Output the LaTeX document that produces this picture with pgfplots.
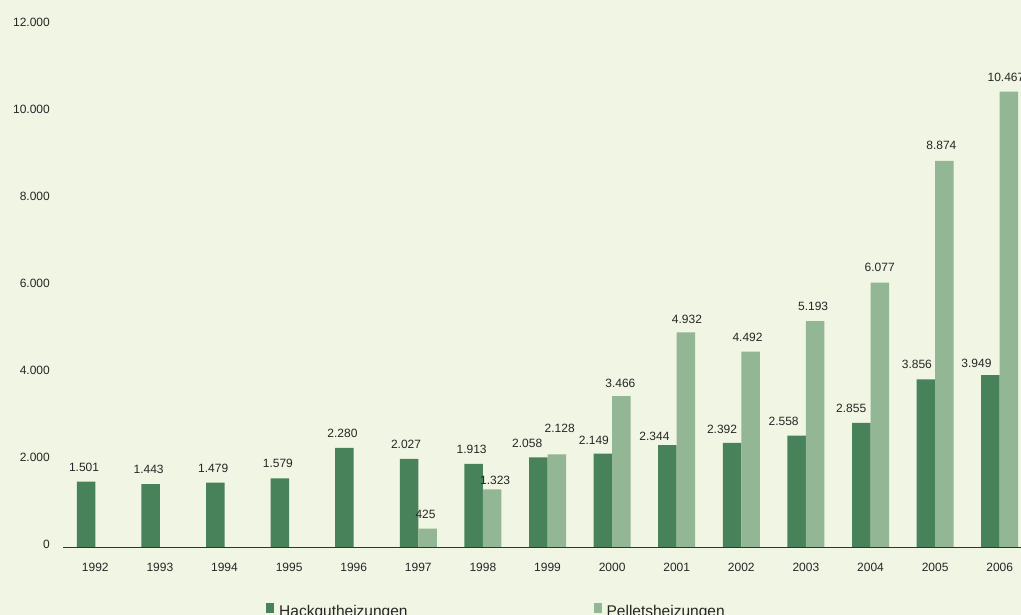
\documentclass[border=0pt]{standalone}
\usepackage{pgfplots}
\usepackage{pgfplotstable}
\pgfplotsset{compat=1.18}
\usepackage{fontspec}
\setmainfont{Liberation Sans}
\definecolor{bgc}{RGB}{241,245,227}
\definecolor{darkg}{RGB}{72,130,90}
\definecolor{lightg}{RGB}{147,182,148}
\pgfplotstableread{
x y dx dy
0 1501 -2 16
1 1443 -2 16
2 1479 -2 16
3 1579 -2 16
4 2280 -2 16
5 2027 -3 16
6 1913 -2 16
7 2058 -11 16
8 2149 -9 15
9 2344 -13 10
10 2392 -10 15
11 2558 -13 16
12 2855 -10 16
13 3856 -9 16
14 3949 -14 13
}\hack
\pgfplotstableread{
x y dx dy
5 425 -2 16
6 1323 3 11
7 2128 3 28
8 3466 -1 14
9 4932 1 15
10 4492 -3 16
11 5193 -2 16
12 6077 0 17
13 8874 -3 17
14 10467 -3 16
}\pellet
\begin{document}
\begin{tikzpicture}[x=1pt,y=1pt]
\useasboundingbox (0,0) rectangle (1021,615);
\clip (0,0) rectangle (1021,615);
\fill[bgc] (0,0) rectangle (1021,615);
\begin{axis}[
  at={(63pt,68pt)}, anchor=south west,
  scale only axis, width=969pt, height=522pt,
  xmin=-0.5, xmax=14.5, ymin=0, ymax=12000,
  enlarge x limits=false, enlarge y limits=false,
  clip=false,
  axis x line*=bottom,
  axis y line*=left,
  y axis line style={draw=none},
  x axis line style={black!80, line width=0.9pt},
  ytick={0,2000,...,12000},
  ytick style={draw=none},
  scaled y ticks=false,
  xtick={0,...,14},
  xticklabels={1992,1993,1994,1995,1996,1997,1998,1999,2000,2001,2002,2003,2004,2005,2006},
  xtick style={draw=none},
  extra x ticks={-0.5,0.5,...,14.5},
  extra x tick labels={},
  extra x tick style={tick style={draw=black!80, line width=0.9pt}, major tick length=4pt, tick align=outside},
  /pgf/number format/.cd, 1000 sep={.}, assume math mode=true, /pgfplots/.cd,
  tick label style={font=\fontsize{12}{14}\selectfont, text=black!85},
  yticklabel style={anchor=east, inner sep=0pt, xshift=-13pt, yshift=2.5pt},
  xticklabel style={anchor=north, inner sep=0pt, yshift=-12pt},
  ybar, bar width=18.5pt,
  nodes near coords,
  visualization depends on={\thisrow{dx} \as \dx},
  visualization depends on={\thisrow{dy} \as \dy},
  every node near coord/.append style={anchor=center, xshift=\dx pt, yshift=\dy pt - 1.5pt, font=\fontsize{12}{14}\selectfont, text=black!85},
  legend columns=2,
  legend image code/.code={\path[#1,draw=none] (0pt,-1pt) rectangle (8pt,9pt);},
  legend style={at={(0.2095,-0.107)}, anchor=north west, draw=none, fill=none, inner sep=0pt,
    font=\fontsize{15.5}{18}\selectfont, text=black!85,
    /tikz/every odd column/.append style={column sep=4pt},
    /tikz/every even column/.append style={column sep=185pt},
    nodes={inner sep=1pt}},
]
\addplot[fill=darkg, draw=none, bar shift=-9.25pt] table[x=x,y=y] {\hack};
\addlegendentry{Hackgutheizungen}
\addplot[fill=lightg, draw=none, bar shift=9.25pt] table[x=x,y=y] {\pellet};
\addlegendentry{Pelletsheizungen}
\end{axis}
\end{tikzpicture}
\end{document}
